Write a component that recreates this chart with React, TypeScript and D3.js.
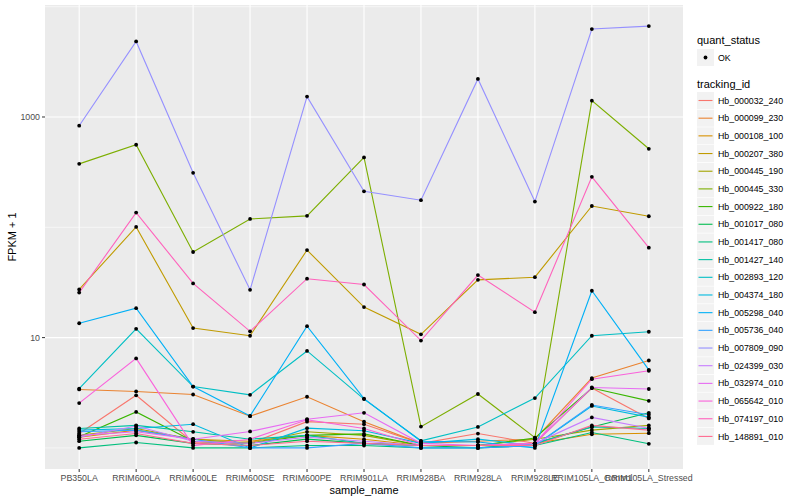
import { useEffect } from "react";
import * as d3 from "d3";

// samples on the x axis
const samples = [
  "PB350LA", "RRIM600LA", "RRIM600LE", "RRIM600SE", "RRIM600PE", "RRIM901LA",
  "RRIM928BA", "RRIM928LA", "RRIM928LE", "RRIM105LA_Control", "RRIM105LA_Stressed"
];

const trackingIds = [
  "Hb_000032_240", "Hb_000099_230", "Hb_000108_100", "Hb_000207_380", "Hb_000445_190",
  "Hb_000445_330", "Hb_000922_180", "Hb_001017_080", "Hb_001417_080", "Hb_001427_140",
  "Hb_002893_120", "Hb_004374_180", "Hb_005298_040", "Hb_005736_040", "Hb_007809_090",
  "Hb_024399_030", "Hb_032974_010", "Hb_065642_010", "Hb_074197_010", "Hb_148891_010"
];

// ggplot hue palette for 20 levels
const colors = [
  "#F8766D", "#EA8331", "#D89000", "#C09B00", "#A3A500", "#7CAE00", "#39B600", "#00BB4E",
  "#00BF7D", "#00C1A3", "#00BFC4", "#00BAE0", "#00B0F6", "#35A2FF", "#9590FF", "#C77CFF",
  "#E76BF3", "#FA62DB", "#FF62BC", "#FF6C91"
];

// FPKM + 1, one row per tracking id, one value per sample
const fpkm1: number[][] = [
  [1.35, 3.0, 1.12, 1.1, 1.73, 1.64, 1.1, 1.35, 1.1, 3.49, 1.85],
  [3.39, 3.25, 3.05, 1.94, 2.91, 1.73, 1.1, 1.15, 1.2, 4.3, 6.2],
  [1.25, 1.45, 1.2, 1.15, 1.3, 1.2, 1.05, 1.05, 1.1, 1.33, 1.36],
  [27.3, 100.7, 12.2, 10.4, 62.2, 18.9, 10.7, 33.4, 35.3, 156, 126],
  [1.3, 1.5, 1.2, 1.1, 1.4, 1.3, 1.05, 1.05, 1.2, 1.45, 1.6],
  [376, 560, 59.7, 119, 127, 430, 1.56, 3.08, 1.24, 1407, 515],
  [1.26, 2.12, 1.15, 1.1, 1.3, 1.34, 1.05, 1.05, 1.23, 3.49, 2.67],
  [1.15, 1.3, 1.1, 1.05, 1.2, 1.1, 1.05, 1.0, 1.1, 1.55, 2.08],
  [1.0, 1.12, 1.0, 1.0, 1.05, 1.05, 1.0, 1.0, 1.05, 1.38, 1.09],
  [1.5, 1.6, 1.4, 1.2, 1.3, 1.1, 1.05, 1.05, 1.1, 1.55, 1.5],
  [3.44, 12.0, 3.6, 3.03, 7.57, 2.77, 1.16, 1.55, 2.83, 10.4, 11.3],
  [1.45, 1.5, 1.64, 1.0, 1.51, 1.43, 1.1, 1.2, 1.05, 2.4, 1.9],
  [13.5, 18.5, 3.6, 1.95, 12.7, 2.8, 1.15, 1.13, 1.0, 26.6, 5.1],
  [1.4, 1.45, 1.2, 1.0, 1.0, 1.1, 1.0, 1.0, 1.05, 2.45, 2.0],
  [834, 4840, 312, 27.1, 1530, 212, 176, 2215, 171, 6270, 6670],
  [1.25, 1.58, 1.15, 1.1, 1.25, 1.15, 1.05, 1.05, 1.1, 1.89, 1.51],
  [1.3, 1.4, 1.2, 1.41, 1.82, 2.08, 1.1, 1.05, 1.1, 3.53, 3.42],
  [2.55, 6.48, 1.05, 1.2, 1.8, 1.5, 1.05, 1.05, 1.1, 4.2, 5.0],
  [25.6, 136, 31, 11.4, 34.2, 30.3, 9.4, 36.9, 17, 287, 65.3],
  [1.2, 1.35, 1.1, 1.05, 1.15, 1.1, 1.05, 1.05, 1.05, 1.6, 1.45]
];

const yBreaks = [10, 1000];
const yMinor = [1, 100, 10000];

const W = 800;
const H = 500;
const panel = { left: 45, right: 683, top: 5, bottom: 469 };
const font = "'Liberation Sans', Arial, Helvetica, sans-serif";

export default function App() {
  useEffect(() => {
    document.body.style.margin = "0";
  }, []);

  const x = d3.scalePoint<string>().domain(samples).range([panel.left, panel.right]).padding(0.6);

  const all = fpkm1.flat();
  const lo = Math.log10(d3.min(all) ?? 1);
  const hi = Math.log10(d3.max(all) ?? 10);
  const pad = (hi - lo) * 0.05;
  const y = d3
    .scaleLog()
    .domain([Math.pow(10, lo - pad), Math.pow(10, hi + pad)])
    .range([panel.bottom, panel.top]);

  const line = d3
    .line<number>()
    .x((_, i) => x(samples[i]) ?? 0)
    .y((v) => y(v));

  const legendX = 697;
  const keyStep = 17.68;
  const keyTop = 92;

  return (
    <svg width={W} height={H} style={{ display: "block" }} fontFamily={font}>
      <rect width={W} height={H} fill="#fff" />
      <rect
        x={panel.left}
        y={panel.top}
        width={panel.right - panel.left}
        height={panel.bottom - panel.top}
        fill="#EBEBEB"
      />
      {yMinor.map((v) => (
        <line key={"mi" + v} x1={panel.left} x2={panel.right} y1={y(v)} y2={y(v)} stroke="#fff" strokeWidth={0.55} />
      ))}
      {yBreaks.map((v) => (
        <line key={"ma" + v} x1={panel.left} x2={panel.right} y1={y(v)} y2={y(v)} stroke="#fff" strokeWidth={1.1} />
      ))}
      {samples.map((s) => (
        <line key={"vx" + s} x1={x(s)} x2={x(s)} y1={panel.top} y2={panel.bottom} stroke="#fff" strokeWidth={1.1} />
      ))}

      {fpkm1.map((row, i) => (
        <path key={"l" + i} d={line(row) ?? ""} fill="none" stroke={colors[i]} strokeWidth={1.1} />
      ))}
      {fpkm1.map((row, i) =>
        row.map((v, j) => <circle key={`p${i}-${j}`} cx={x(samples[j])} cy={y(v)} r={1.9} fill="#000" />)
      )}

      {/* y axis */}
      {yBreaks.map((v) => (
        <g key={"yt" + v}>
          <line x1={panel.left - 3} x2={panel.left} y1={y(v)} y2={y(v)} stroke="#333" strokeWidth={1} />
          <text x={panel.left - 5} y={y(v)} dy="0.35em" textAnchor="end" fontSize={8.8} fill="#4D4D4D">
            {v}
          </text>
        </g>
      ))}
      {/* x axis */}
      {samples.map((s) => (
        <g key={"xt" + s}>
          <line x1={x(s)} x2={x(s)} y1={panel.bottom} y2={panel.bottom + 3} stroke="#333" strokeWidth={1} />
          <text x={x(s)} y={panel.bottom + 12} textAnchor="middle" fontSize={8.8} fill="#4D4D4D">
            {s}
          </text>
        </g>
      ))}
      <text x={(panel.left + panel.right) / 2} y={494} textAnchor="middle" fontSize={11} fill="#000">
        sample_name
      </text>
      <text
        transform={`translate(16,${(panel.top + panel.bottom) / 2}) rotate(-90)`}
        textAnchor="middle"
        fontSize={11}
        fill="#000"
      >
        FPKM + 1
      </text>

      {/* legend: quant_status */}
      <text x={legendX} y={44} fontSize={11} fill="#000">
        quant_status
      </text>
      <rect x={legendX} y={49} width={17} height={17} fill="#F2F2F2" />
      <circle cx={legendX + 8.5} cy={57.5} r={1.9} fill="#000" />
      <text x={legendX + 21} y={57.5} dy="0.35em" fontSize={8.8} fill="#000">
        OK
      </text>

      {/* legend: tracking_id */}
      <text x={legendX} y={88} fontSize={11} fill="#000">
        tracking_id
      </text>
      {trackingIds.map((id, i) => {
        const cy = keyTop + 8.5 + i * keyStep;
        return (
          <g key={"lg" + id}>
            <rect x={legendX} y={cy - 8.5} width={17} height={17} fill="#F2F2F2" />
            <line x1={legendX + 1.5} x2={legendX + 15.5} y1={cy} y2={cy} stroke={colors[i]} strokeWidth={1.1} />
            <text x={legendX + 21} y={cy} dy="0.35em" fontSize={8.8} fill="#000">
              {id}
            </text>
          </g>
        );
      })}
    </svg>
  );
}
